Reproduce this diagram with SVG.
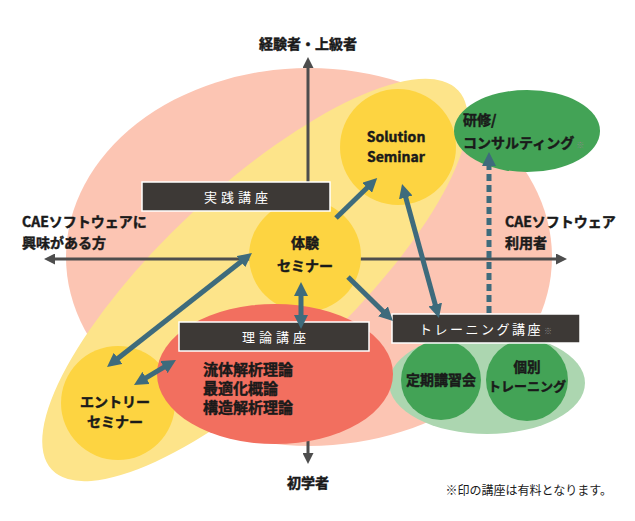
<svg xmlns="http://www.w3.org/2000/svg" width="635" height="521" viewBox="0 0 635 521">
<style>
.t{font-family:"Noto Sans CJK JP","Noto Sans",sans-serif;font-weight:bold;fill:#1a1a1a;stroke:#1a1a1a;stroke-width:0.45px;font-size:14px;}
.m{text-anchor:middle;}
.box{fill:#3d3936;stroke:#ffffff;stroke-width:1.5;}
.bt{font-family:"Noto Sans CJK JP","Noto Sans",sans-serif;font-size:13px;fill:#ffffff;letter-spacing:4px;}
.ar{stroke:#3e6b7c;stroke-width:5;fill:none;}
.ax{stroke:#4d4d4d;stroke-width:3;fill:none;}
.sm{font-size:8px;font-weight:normal;fill:#888888;stroke:none;letter-spacing:0;}
</style>
<defs>
<marker id="ah" markerUnits="userSpaceOnUse" markerWidth="14" markerHeight="14" refX="4" refY="7" orient="auto-start-reverse" viewBox="0 0 14 14"><path d="M0,0 L14,7 L0,14z" fill="#3e6b7c"/></marker>
<marker id="axh" markerUnits="userSpaceOnUse" markerWidth="11" markerHeight="11" refX="3" refY="5.5" orient="auto-start-reverse" viewBox="0 0 11 11"><path d="M0,0 L11,5.5 L0,11z" fill="#4d4d4d"/></marker>
</defs>

<g id="backgrounds">
<ellipse cx="309" cy="257" rx="243" ry="189" fill="#fcc5b3"/>
<ellipse cx="255" cy="280" rx="278" ry="92" fill="#fde48a" transform="rotate(-43 255 280)"/>
</g>

<g id="axes">
<line class="ax" x1="308" y1="120" x2="308" y2="65" marker-end="url(#axh)"/>
<line class="ax" x1="308" y1="120" x2="308" y2="456" marker-end="url(#axh)"/>
<line class="ax" x1="52" y1="259" x2="559" y2="259" marker-start="url(#axh)" marker-end="url(#axh)"/>
</g>

<g id="axis-labels">
<text class="t m" x="308" y="49">経験者・上級者</text>
<text class="t m" x="308" y="488">初学者</text>
<text class="t" x="22" y="227">CAEソフトウェアに</text>
<text class="t" x="22" y="248">興味がある方</text>
<text class="t" x="505" y="227">CAEソフトウェア</text>
<text class="t" x="505" y="248">利用者</text>
</g>

<g id="solution-seminar">
<circle cx="398" cy="147" r="58" fill="#fdd441"/>
<text class="t m" x="396" y="142">Solution</text>
<text class="t m" x="396" y="162">Seminar</text>
</g>

<g id="consulting">
<ellipse cx="527" cy="131" rx="73" ry="41" fill="#43a356"/>
<text class="t" x="463" y="125">研修/</text>
<text class="t" x="463" y="148">コンサルティング<tspan class="sm" dx="2">※</tspan></text>
</g>

<g id="training-group">
<ellipse cx="487" cy="383" rx="98" ry="51" fill="#acd6b0"/>
<g id="teiki">
<circle cx="441" cy="380" r="40" fill="#43a356"/>
<text class="t m" x="441" y="385">定期講習会</text>
</g>
<g id="kobetsu">
<circle cx="527" cy="380" r="41" fill="#43a356"/>
<text class="t m" x="527" y="372" style="font-size:13.5px">個別</text>
<text class="t m" x="527" y="391" style="font-size:13px">トレーニング</text>
</g>
</g>

<g id="taiken-seminar">
<circle cx="305" cy="256" r="56" fill="#fdd441"/>
<text class="t m" x="305" y="248">体験</text>
<text class="t m" x="305" y="271">セミナー</text>
</g>

<g id="entry-seminar">
<circle cx="118" cy="403" r="57" fill="#fdd441"/>
<text class="t m" x="115" y="407">エントリー</text>
<text class="t m" x="115" y="427">セミナー</text>
</g>

<g id="riron">
<ellipse cx="275" cy="374" rx="118" ry="70" fill="#f26f5f"/>
<text class="t" x="203" y="375" style="font-size:15px">流体解析理論</text>
<text class="t" x="203" y="394" style="font-size:15px">最適化概論</text>
<text class="t" x="203" y="413" style="font-size:15px">構造解析理論</text>
</g>

<g id="jissen-koza">
<rect class="box" x="142" y="182" width="188" height="29"/>
<text class="bt m" x="238" y="201.5">実践講座</text>
</g>

<g id="riron-koza">
<rect class="box" x="179" y="322" width="190" height="29"/>
<text class="bt m" x="276" y="341.5">理論講座</text>
</g>

<g id="training-koza">
<rect class="box" x="392" y="314" width="188" height="29"/>
<text class="bt" x="419" y="333.5" style="letter-spacing:2.5px">トレーニング講座<tspan class="sm" dx="1">※</tspan></text>
</g>

<g id="connectors">
<line class="ar" x1="336" y1="218" x2="370" y2="185" marker-end="url(#ah)"/>
<line class="ar" x1="404.7" y1="193.6" x2="436.3" y2="308.4" marker-start="url(#ah)" marker-end="url(#ah)"/>
<line class="ar" x1="244.1" y1="259.2" x2="114.9" y2="360.8" marker-start="url(#ah)" marker-end="url(#ah)"/>
<line class="ar" x1="301" y1="292" x2="301" y2="319" marker-start="url(#ah)" marker-end="url(#ah)"/>
<line class="ar" x1="348" y1="277" x2="385.8" y2="314" marker-end="url(#ah)"/>
<line class="ar" x1="142.6" y1="379.9" x2="167.4" y2="365.1" marker-start="url(#ah)" marker-end="url(#ah)"/>
<line class="ar" x1="489" y1="313" x2="489" y2="162" stroke-dasharray="7 4" marker-end="url(#ah)"/>
</g>

<g id="footnote">
<text x="612" y="495" style="font-family:'Noto Sans CJK JP','Noto Sans',sans-serif;font-size:12px;fill:#1a1a1a;text-anchor:end">※印の講座は有料となります。</text>
</g>
</svg>
